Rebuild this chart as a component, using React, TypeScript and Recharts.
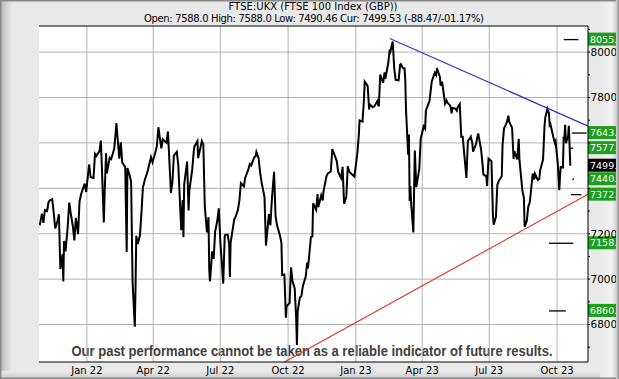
import React from 'react';
import { LineChart, Line, XAxis, YAxis, CartesianGrid, ReferenceLine } from 'recharts';

const title = 'FTSE:UKX (FTSE 100 Index (GBP))';
const subtitle = 'Open: 7588.0 High: 7588.0 Low: 7490.46 Cur: 7499.53 (-88.47/-01.17%)';
const disclaimer = 'Our past performance cannot be taken as a reliable indicator of future results.';

const price: [string, number][] = [
  ['2021-10-29', 7237], ['2021-11-01', 7288], ['2021-11-03', 7248], ['2021-11-05', 7304], ['2021-11-08', 7300],
  ['2021-11-10', 7340], ['2021-11-12', 7348], ['2021-11-15', 7352], ['2021-11-17', 7291], ['2021-11-19', 7223],
  ['2021-11-22', 7255], ['2021-11-24', 7286], ['2021-11-26', 7044], ['2021-11-29', 7110], ['2021-11-30', 6990],
  ['2021-12-01', 7168], ['2021-12-03', 7122], ['2021-12-06', 7232], ['2021-12-08', 7337], ['2021-12-10', 7292],
  ['2021-12-13', 7231], ['2021-12-15', 7171], ['2021-12-17', 7270], ['2021-12-20', 7198], ['2021-12-22', 7341],
  ['2021-12-24', 7373], ['2021-12-29', 7421], ['2021-12-31', 7384],
  ['2022-01-04', 7505], ['2022-01-06', 7450], ['2022-01-10', 7445], ['2022-01-12', 7552], ['2022-01-14', 7543],
  ['2022-01-18', 7564], ['2022-01-20', 7610], ['2022-01-24', 7250], ['2022-01-25', 7372], ['2022-01-27', 7554],
  ['2022-01-28', 7466], ['2022-02-01', 7535], ['2022-02-03', 7529], ['2022-02-07', 7573], ['2022-02-09', 7644],
  ['2022-02-10', 7687], ['2022-02-14', 7531], ['2022-02-16', 7603], ['2022-02-18', 7513], ['2022-02-22', 7494],
  ['2022-02-24', 7120], ['2022-02-25', 7489], ['2022-02-28', 7458], ['2022-03-02', 7429], ['2022-03-04', 6987],
  ['2022-03-07', 6790], ['2022-03-08', 6964], ['2022-03-09', 7191], ['2022-03-11', 7155], ['2022-03-14', 7193],
  ['2022-03-16', 7291], ['2022-03-18', 7404], ['2022-03-21', 7442], ['2022-03-23', 7460], ['2022-03-25', 7483],
  ['2022-03-29', 7537], ['2022-03-31', 7515], ['2022-04-04', 7559], ['2022-04-06', 7587], ['2022-04-08', 7669],
  ['2022-04-12', 7576], ['2022-04-14', 7616], ['2022-04-19', 7601], ['2022-04-21', 7650], ['2022-04-25', 7380],
  ['2022-04-27', 7425], ['2022-04-29', 7544], ['2022-05-03', 7561], ['2022-05-05', 7503], ['2022-05-09', 7216],
  ['2022-05-11', 7348], ['2022-05-12', 7185], ['2022-05-13', 7418], ['2022-05-17', 7518], ['2022-05-19', 7302],
  ['2022-05-20', 7389], ['2022-05-24', 7485], ['2022-05-26', 7564], ['2022-05-27', 7585], ['2022-05-31', 7608],
  ['2022-06-01', 7533], ['2022-06-06', 7608], ['2022-06-08', 7593], ['2022-06-10', 7318], ['2022-06-13', 7206],
  ['2022-06-15', 7273], ['2022-06-16', 7044], ['2022-06-17', 6990], ['2022-06-20', 7122], ['2022-06-22', 7089],
  ['2022-06-24', 7208], ['2022-06-27', 7258], ['2022-06-29', 7312], ['2022-07-01', 7169], ['2022-07-05', 6980],
  ['2022-07-07', 7189], ['2022-07-08', 7196], ['2022-07-11', 7196], ['2022-07-13', 7156], ['2022-07-14', 7010],
  ['2022-07-15', 7159], ['2022-07-18', 7223], ['2022-07-20', 7264], ['2022-07-22', 7276], ['2022-07-25', 7306],
  ['2022-07-27', 7348], ['2022-07-29', 7423], ['2022-08-02', 7409], ['2022-08-04', 7448], ['2022-08-08', 7482],
  ['2022-08-10', 7507], ['2022-08-12', 7500], ['2022-08-16', 7536], ['2022-08-18', 7541], ['2022-08-19', 7560],
  ['2022-08-22', 7533], ['2022-08-24', 7471], ['2022-08-26', 7427], ['2022-08-30', 7361], ['2022-09-01', 7148],
  ['2022-09-05', 7287], ['2022-09-07', 7237], ['2022-09-09', 7351], ['2022-09-12', 7473], ['2022-09-14', 7277],
  ['2022-09-16', 7237], ['2022-09-20', 7192], ['2022-09-22', 7159], ['2022-09-23', 7018], ['2022-09-26', 7020],
  ['2022-09-28', 6830], ['2022-09-29', 6881], ['2022-10-03', 6894], ['2022-10-05', 7052], ['2022-10-07', 6991],
  ['2022-10-10', 6959], ['2022-10-12', 6826], ['2022-10-13', 6710], ['2022-10-14', 6858], ['2022-10-17', 6920],
  ['2022-10-19', 6924], ['2022-10-21', 6969], ['2022-10-25', 7013], ['2022-10-27', 7073], ['2022-10-28', 7047],
  ['2022-11-01', 7186], ['2022-11-03', 7188], ['2022-11-04', 7334], ['2022-11-08', 7306], ['2022-11-10', 7375],
  ['2022-11-11', 7318], ['2022-11-15', 7369], ['2022-11-17', 7347], ['2022-11-18', 7385], ['2022-11-22', 7452],
  ['2022-11-24', 7466], ['2022-11-28', 7474], ['2022-11-30', 7573], ['2022-12-02', 7556], ['2022-12-06', 7521],
  ['2022-12-08', 7472], ['2022-12-12', 7445], ['2022-12-14', 7495], ['2022-12-16', 7332], ['2022-12-19', 7361],
  ['2022-12-21', 7497], ['2022-12-23', 7473], ['2022-12-30', 7451],
  ['2023-01-03', 7554], ['2023-01-05', 7633], ['2023-01-06', 7699], ['2023-01-10', 7694], ['2023-01-12', 7794],
  ['2023-01-13', 7870], ['2023-01-17', 7851], ['2023-01-19', 7747], ['2023-01-20', 7770], ['2023-01-24', 7757],
  ['2023-01-26', 7761], ['2023-01-30', 7784], ['2023-02-01', 7761], ['2023-02-02', 7820], ['2023-02-03', 7901],
  ['2023-02-07', 7864], ['2023-02-09', 7911], ['2023-02-10', 7882], ['2023-02-14', 7953], ['2023-02-16', 8012],
  ['2023-02-17', 8004], ['2023-02-20', 8047], ['2023-02-22', 7930], ['2023-02-24', 7878], ['2023-02-28', 7876],
  ['2023-03-02', 7944], ['2023-03-03', 7947], ['2023-03-06', 7929], ['2023-03-08', 7929], ['2023-03-09', 7879],
  ['2023-03-10', 7748], ['2023-03-13', 7548], ['2023-03-14', 7637], ['2023-03-15', 7344], ['2023-03-16', 7410],
  ['2023-03-17', 7335], ['2023-03-20', 7206], ['2023-03-22', 7566], ['2023-03-24', 7405], ['2023-03-28', 7484],
  ['2023-03-30', 7620], ['2023-03-31', 7631], ['2023-04-03', 7673], ['2023-04-05', 7663], ['2023-04-06', 7742],
  ['2023-04-11', 7786], ['2023-04-13', 7843], ['2023-04-14', 7871], ['2023-04-18', 7909], ['2023-04-20', 7899],
  ['2023-04-21', 7930], ['2023-04-25', 7891], ['2023-04-26', 7852], ['2023-04-28', 7870], ['2023-05-02', 7773],
  ['2023-05-04', 7788], ['2023-05-05', 7778], ['2023-05-09', 7764], ['2023-05-11', 7730], ['2023-05-12', 7754],
  ['2023-05-16', 7751], ['2023-05-18', 7742], ['2023-05-19', 7756], ['2023-05-22', 7771], ['2023-05-24', 7627],
  ['2023-05-26', 7627], ['2023-05-31', 7446], ['2023-06-02', 7607], ['2023-06-06', 7628], ['2023-06-08', 7599],
  ['2023-06-09', 7562], ['2023-06-13', 7594], ['2023-06-15', 7628], ['2023-06-16', 7642], ['2023-06-20', 7569],
  ['2023-06-22', 7502], ['2023-06-23', 7461], ['2023-06-27', 7453], ['2023-06-28', 7410], ['2023-06-30', 7531],
  ['2023-07-04', 7519], ['2023-07-06', 7280], ['2023-07-07', 7240], ['2023-07-10', 7273], ['2023-07-12', 7416],
  ['2023-07-14', 7434], ['2023-07-18', 7453], ['2023-07-19', 7588], ['2023-07-21', 7663], ['2023-07-25', 7691],
  ['2023-07-27', 7720], ['2023-07-28', 7694], ['2023-08-01', 7666], ['2023-08-03', 7529], ['2023-08-04', 7564],
  ['2023-08-08', 7527], ['2023-08-10', 7618], ['2023-08-11', 7524], ['2023-08-15', 7389], ['2023-08-17', 7357],
  ['2023-08-18', 7230], ['2023-08-21', 7257], ['2023-08-23', 7320], ['2023-08-25', 7338], ['2023-08-29', 7465],
  ['2023-08-31', 7439], ['2023-09-01', 7464], ['2023-09-05', 7437], ['2023-09-07', 7442], ['2023-09-08', 7478],
  ['2023-09-12', 7527], ['2023-09-14', 7673], ['2023-09-15', 7711], ['2023-09-18', 7750], ['2023-09-20', 7731],
  ['2023-09-21', 7678], ['2023-09-22', 7683], ['2023-09-26', 7625], ['2023-09-28', 7601], ['2023-09-29', 7608],
  ['2023-10-02', 7510], ['2023-10-04', 7392], ['2023-10-05', 7451], ['2023-10-06', 7494], ['2023-10-09', 7492],
  ['2023-10-10', 7628], ['2023-10-11', 7620], ['2023-10-12', 7680], ['2023-10-13', 7599], ['2023-10-16', 7630],
  ['2023-10-17', 7675], ['2023-10-18', 7588], ['2023-10-19', 7499.53],
];

const quarterDates = ['2022-01-01', '2022-04-01', '2022-07-01', '2022-10-01', '2023-01-01', '2023-04-01', '2023-07-01', '2023-10-01'];
const quarterLabels = ['Jan 22', 'Apr 22', 'Jul 22', 'Oct 22', 'Jan 23', 'Apr 23', 'Jul 23', 'Oct 23'];
const yTicks = [6700, 6800, 6900, 7000, 7100, 7200, 7300, 7400, 7500, 7600, 7700, 7800, 7900, 8000, 8100];
const yLabeled = [6800, 7000, 7200, 7800, 8000];
const yGrid = [6800, 7000, 7200, 7400, 7600, 7800, 8000];
const xStartDate = '2021-10-28';
const xEndDate = '2023-11-12';
const yMin = 6635;
const yMax = 8115;

const boxValues = [8055.1, 7643.5, 7577.0, 7499.53, 7440.0, 7372.1, 7158.0, 6860.0];
const boxTexts = ['8055.1', '7643.5', '7577.0', '7499.5', '7440.0', '7372.1', '7158.0', '6860.0'];
const boxColors = ['#1d9f1d', '#1d9f1d', '#1d9f1d', '#000000', '#1d9f1d', '#1d9f1d', '#1d9f1d', '#1d9f1d'];

const markValues = [8055.1, 7643.5, 7577.0, 7440.0, 7372.1, 7158.0, 6860.0];
const markFrom = ['2023-10-10', '2023-10-21', '2023-10-19', '2023-10-22', '2023-10-20', '2023-09-20', '2023-09-20'];
const markTo = ['2023-10-30', '2023-11-10', '2023-10-23', '2023-10-24', '2023-11-03', '2023-10-23', '2023-10-13'];

const resistanceDates = ['2023-02-16', '2023-11-12'];
const resistanceValues = [8060, 7674];
const supportDates = ['2022-09-26', '2023-11-12'];
const supportValues = [6635, 7374];

const BASE = Date.parse('2022-01-01T00:00:00Z');
const day = (s: string) => (Date.parse(s + 'T00:00:00Z') - BASE) / 86400000;

const data = price.map(([d, v]) => ({ t: day(d), v }));
const quarterT = quarterDates.map(day);
const xMin = day(xStartDate);
const xMax = day(xEndDate);

const FONT = 'DejaVu Sans, Verdana, sans-serif';

const renderBox = (viewBox: any, i: number) => {
  if (!viewBox) return null;
  const x = viewBox.x + viewBox.width;
  const y = viewBox.y;
  return (
    <g>
      <rect x={x} y={y - 7} width={28} height={13} fill={boxColors[i]} />
      <text x={x + 2} y={y - 0.5} dy="0.36em" fill="#ffffff" fontSize={9.5} fontFamily={FONT}>
        {boxTexts[i]}
      </text>
    </g>
  );
};

const RightTick = (p: any) => {
  const v = p.payload && p.payload.value;
  if (!yLabeled.includes(v)) return <g />;
  return (
    <text x={p.x} y={p.y} dy="0.36em" textAnchor="start" fill="#000" fontSize={10.5} fontFamily={FONT}>
      {v}
    </text>
  );
};

export default function App() {
  return (
    <div style={{ position: 'fixed', left: 0, top: 0, width: 619, height: 379, overflow: 'hidden' }}>
      <svg width={619} height={379} style={{ position: 'absolute', left: 0, top: 0 }}>
        <defs>
          <linearGradient id="lstrip" x1="0" x2="1" y1="0" y2="0">
            <stop offset="0" stopColor="#b9b9b9" />
            <stop offset="1" stopColor="#e9e9e9" />
          </linearGradient>
          <linearGradient id="rstrip" x1="0" x2="1" y1="0" y2="0">
            <stop offset="0" stopColor="#e9e9e9" />
            <stop offset="0.6" stopColor="#f2f2f2" />
            <stop offset="1" stopColor="#c4c4c4" />
          </linearGradient>
          <linearGradient id="bstrip" x1="0" x2="0" y1="0" y2="1">
            <stop offset="0" stopColor="#e9e9e9" />
            <stop offset="1" stopColor="#c9c9c9" />
          </linearGradient>
        </defs>
        <rect x={0} y={0} width={619} height={379} fill="#e9e9e9" />
        <rect x={0} y={0} width={12} height={379} fill="url(#lstrip)" />
        <rect x={0} y={371} width={619} height={8} fill="url(#bstrip)" />
        <rect x={600} y={0} width={19} height={379} fill="url(#rstrip)" />
        <rect x={0.75} y={0.75} width={617.5} height={377.5} fill="none" stroke="#8a8a8a" strokeWidth={1.5} />
        <rect x={39} y={26} width={549} height={336} fill="#ffffff" />
        <text x={313} y={10} textAnchor="middle" fontSize={10} fontFamily={FONT} fill="#000" textLength={169}>
          {title}
        </text>
        <text x={314} y={22} textAnchor="middle" fontSize={10} fontFamily={FONT} fill="#000" textLength={340}>
          {subtitle}
        </text>
        <text
          x={71.5}
          y={356}
          fontSize={14}
          fontWeight="bold"
          fontFamily="Liberation Sans Narrow, Liberation Sans, Arial, sans-serif"
          fill="#404040"
          textLength={481}
          lengthAdjust="spacingAndGlyphs"
        >
          {disclaimer}
        </text>
      </svg>
      <div style={{ position: 'absolute', left: 0, top: 0 }}>
        <LineChart width={619} height={379} data={data} margin={{ top: 26, right: 0, bottom: 0, left: 39 }}>
          <CartesianGrid stroke="#b2b2b2" horizontalValues={yGrid} verticalValues={quarterT} />
          <XAxis
            dataKey="t"
            type="number"
            domain={[xMin, xMax]}
            allowDataOverflow
            ticks={quarterT}
            tickFormatter={(v: number) => quarterLabels[quarterT.indexOf(v)] ?? ''}
            height={17}
            tickLine={false}
            tickSize={3}
            tickMargin={1.5}
            axisLine={{ stroke: '#000', strokeWidth: 1 }}
            tick={{ fontSize: 10, fill: '#000', fontFamily: FONT }}
            interval={0}
          />
          <YAxis
            orientation="right"
            type="number"
            domain={[yMin, yMax]}
            allowDataOverflow
            ticks={yTicks}
            interval={0}
            width={31}
            tickSize={2}
            tickMargin={0.5}
            tickLine={{ stroke: '#000' }}
            axisLine={{ stroke: '#000' }}
            tick={RightTick}
          />
          <YAxis
            yAxisId="l"
            orientation="left"
            type="number"
            domain={[yMin, yMax]}
            allowDataOverflow
            ticks={yTicks}
            interval={0}
            mirror
            width={0}
            tickSize={3}
            tick={false}
            tickLine={{ stroke: '#000' }}
            axisLine={{ stroke: '#000' }}
          />
          <ReferenceLine y={yMax} stroke="#000" strokeWidth={1} />
          <Line
            dataKey="v"
            type="linear"
            stroke="#000"
            strokeWidth={2}
            dot={false}
            isAnimationActive={false}
          />
          <ReferenceLine
            segment={[
              { x: day(resistanceDates[0]), y: resistanceValues[0] },
              { x: day(resistanceDates[1]), y: resistanceValues[1] },
            ]}
            stroke="#3333cc"
            strokeWidth={1.2}
          />
          <ReferenceLine
            segment={[
              { x: day(supportDates[0]), y: supportValues[0] },
              { x: day(supportDates[1]), y: supportValues[1] },
            ]}
            stroke="#e03a2a"
            strokeWidth={1.2}
          />
          {markValues.map((v, i) => (
            <ReferenceLine
              key={'m' + i}
              segment={[
                { x: day(markFrom[i]), y: v },
                { x: day(markTo[i]), y: v },
              ]}
              stroke="#000"
              strokeWidth={1.3}
            />
          ))}
          {boxValues.map((v, i) => (
            <ReferenceLine
              key={'b' + i}
              y={v}
              stroke="none"
              label={(p: any) => renderBox(p.viewBox, i)}
            />
          ))}
        </LineChart>
      </div>
      <div style={{ position: 'absolute', left: 616, top: 0, width: 3, height: 379, background: 'linear-gradient(to right, #d6d6d6, #8a8a8a)' }} />
    </div>
  );
}
